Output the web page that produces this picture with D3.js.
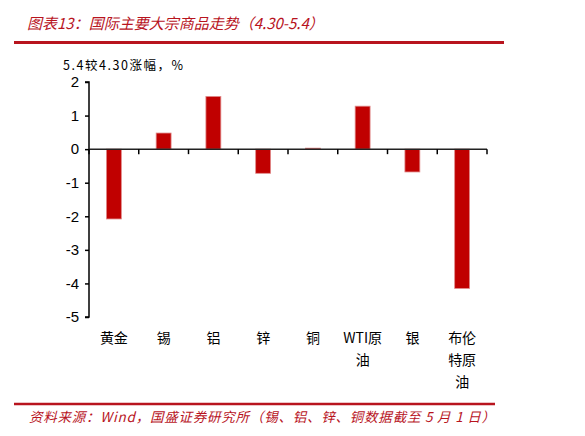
<!DOCTYPE html>
<html lang="zh">
<head>
<meta charset="utf-8">
<script src="https://d3js.org/d3.v7.min.js"></script>
<style>
  body { margin: 0; background: #fff; }
  svg { display: block; }
</style>
</head>
<body>
<script>
// data
const categories = ["黄金", "锡", "铝", "锌", "铜", "WTI原\n油", "银", "布伦\n特原\n油"];
const changes = [-2.08, 0.48, 1.57, -0.72, 0.03, 1.28, -0.68, -4.15];
const yTicks = [2, 1, 0, -1, -2, -3, -4, -5];

const width = 585, height = 436;
const red = "#C00000";
const titleRed = "#B8141E";
const cjk = "'Noto Sans CJK SC', 'Noto Sans', sans-serif";

const svg = d3.select("body").append("svg")
  .attr("width", width)
  .attr("height", height);

// title + rules
svg.append("text")
  .attr("x", 27).attr("y", 29)
  .attr("font-family", cjk)
  .attr("font-style", "italic")
  .attr("font-size", 15)
  .attr("fill", titleRed)
  .text("图表13：国际主要大宗商品走势（4.30-5.4）");

svg.append("line")
  .attr("x1", 14).attr("x2", 504).attr("y1", 42.5).attr("y2", 42.5)
  .attr("stroke", titleRed).attr("stroke-width", 3);

svg.append("line")
  .attr("x1", 14).attr("x2", 495).attr("y1", 404).attr("y2", 404)
  .attr("stroke", titleRed).attr("stroke-width", 2.5);

svg.append("text")
  .attr("x", 29).attr("y", 422)
  .attr("font-family", cjk)
  .attr("font-style", "italic")
  .attr("font-size", 13.5)
  .attr("fill", titleRed)
  .attr("textLength", 466)
  .attr("lengthAdjust", "spacing")
  .text("资料来源：Wind，国盛证券研究所（锡、铝、锌、铜数据截至 5 月 1 日）");

// axis unit label
svg.append("text")
  .attr("x", 63).attr("y", 70)
  .attr("font-family", cjk)
  .attr("font-size", 12.5)
  .attr("fill", "#000")
  .attr("textLength", 120)
  .attr("lengthAdjust", "spacing")
  .text("5.4较4.30涨幅，%");

// scales
const xScale = d3.scaleBand()
  .domain(categories)
  .range([89, 487])
  .paddingInner(0.7)
  .paddingOuter(0.35);

const yScale = d3.scaleLinear()
  .domain([-5, 2])
  .range([317, 82]);

// bars
svg.selectAll("rect.bar")
  .data(changes)
  .enter()
  .append("rect")
  .attr("class", "bar")
  .attr("x", (d, i) => xScale(categories[i]))
  .attr("y", d => yScale(Math.max(0, d)))
  .attr("width", xScale.bandwidth())
  .attr("height", d => Math.abs(yScale(d) - yScale(0)))
  .attr("fill", red)
  .attr("stroke", "#e08a8a")
  .attr("stroke-width", 0.8);

// left axis
const leftAxis = d3.axisLeft(yScale)
  .tickValues(yTicks)
  .tickSize(4)
  .tickPadding(6)
  .tickFormat(d => String(d));

const gy = svg.append("g")
  .attr("transform", "translate(89,0)")
  .call(leftAxis);
gy.select(".domain").attr("stroke", "#000").attr("stroke-width", 1.5)
  .attr("d", "M-4," + yScale(2) + "H0V" + yScale(-5) + "H-4");
gy.selectAll(".tick line").attr("stroke", "#000").attr("stroke-width", 1.5);
gy.selectAll(".tick text")
  .attr("font-family", "'Liberation Sans', Arial, sans-serif")
  .attr("font-size", 15)
  .attr("fill", "#000");

// zero line with category boundary ticks
const boundaries = categories.map(c => xScale(c) - xScale.step() * xScale.paddingInner() / 2);
boundaries.push(487);
svg.append("line")
  .attr("x1", 89).attr("x2", 487)
  .attr("y1", yScale(0)).attr("y2", yScale(0))
  .attr("stroke", "#222").attr("stroke-width", 1.5);
svg.selectAll("line.xtick")
  .data(boundaries)
  .enter()
  .append("line")
  .attr("class", "xtick")
  .attr("x1", d => d).attr("x2", d => d)
  .attr("y1", yScale(0)).attr("y2", yScale(0) + 5)
  .attr("stroke", "#000").attr("stroke-width", 1.5);

// category labels
const labels = svg.selectAll("text.cat")
  .data(categories)
  .enter()
  .append("text")
  .attr("class", "cat")
  .attr("text-anchor", "middle")
  .attr("font-family", cjk)
  .attr("font-size", 14)
  .attr("fill", "#000");
labels.each(function(d) {
  const x = xScale(d) + xScale.bandwidth() / 2;
  d.split("\n").forEach((line, j) => {
    d3.select(this).append("tspan")
      .attr("x", x)
      .attr("y", 343 + j * 22)
      .text(line);
  });
});
</script>
</body>
</html>
